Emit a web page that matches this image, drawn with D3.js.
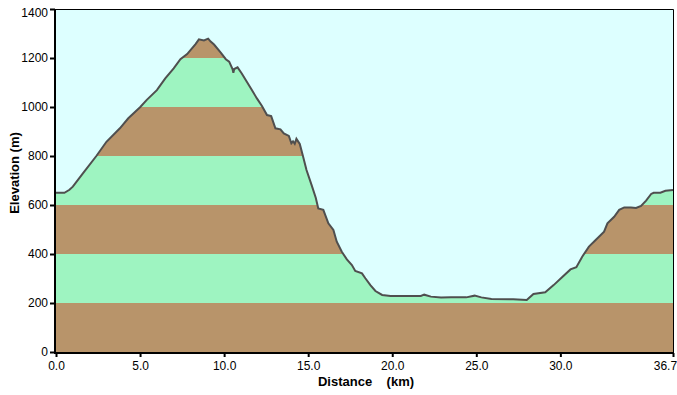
<!DOCTYPE html>
<html>
<head>
<meta charset="utf-8">
<script src="https://cdn.jsdelivr.net/npm/d3@7"></script>
<style>
  body { margin: 0; background: #fff; }
  text { font-family: "Liberation Sans", Arial, sans-serif; }
</style>
</head>
<body>
<script>
// profile (km, m)
const distances = [0, 0.5, 0.8, 1.0, 1.6, 2.4, 3.0, 3.8, 4.3, 5.0, 5.4, 6.0, 6.5, 7.0, 7.4, 7.8, 8.3, 8.5, 8.8, 9.05,
  9.2, 9.4, 9.8, 10.1, 10.3, 10.5, 10.55, 10.6, 10.8, 11.05, 11.35, 11.65, 11.95, 12.25, 12.55, 12.8, 13.05, 13.35,
  13.55, 13.85, 14.0, 14.1, 14.2, 14.3, 14.5, 14.7, 14.9, 15.2, 15.45, 15.6, 15.9, 16.2, 16.5, 16.7, 17.0, 17.3, 17.6,
  17.8, 18.2, 18.4, 18.7, 19.0, 19.4, 19.9, 21.7, 21.9, 22.3, 22.9, 23.5, 24.4, 24.9, 25.3, 25.9, 27.2, 28.0, 28.4,
  29.1, 29.6, 30.1, 30.6, 30.95, 31.3, 31.7, 32.1, 32.6, 32.8, 33.2, 33.5, 33.8, 34.2, 34.5, 34.8, 35.1, 35.4, 35.55,
  35.95, 36.25, 36.7]
const elevations = [650, 650, 662, 675, 729, 800, 858, 913, 954, 999, 1029, 1069, 1117, 1158, 1195, 1216, 1257, 1276, 1272, 1279,
  1267, 1255, 1222, 1195, 1185, 1155, 1140, 1155, 1162, 1137, 1103, 1069, 1035, 1004, 967, 963, 913, 909,
  892, 882, 852, 860, 850, 870, 849, 797, 743, 682, 630, 586, 580, 525, 498, 450, 409, 378, 355,
  331, 321, 301, 273, 249, 233, 229, 229, 234, 226, 222, 223, 223, 230, 223, 216, 215, 212, 237,
  244, 273, 305, 337, 346, 389, 430, 457, 491, 525, 552, 580, 590, 590, 588, 596, 618, 645, 650,
  650, 658, 661]

const xTicks = [0, 5, 10, 15, 20, 25, 30, 36.7]
const yTicks = [0, 200, 400, 600, 800, 1000, 1200, 1400]
const bandEdges = [0, 200, 400, 600, 800, 1000, 1200, 1400]

const W = 677
const H = 395
const margin = { left: 56, right: 4, top: 9, bottom: 43 }

const brown = '#b8946a'
const green = '#9ef4c1'
const sky = '#ddffff'

const data = distances.map((d, i) => ({ d: d, e: elevations[i] }))

const x = d3.scaleLinear().domain([0, 36.7]).range([margin.left, W - margin.right])
const y = d3.scaleLinear().domain([0, 1400]).range([H - margin.bottom, margin.top])

const svg = d3.select('body').append('svg')
  .attr('width', W)
  .attr('height', H)

svg.append('rect')
  .attr('x', x(0))
  .attr('y', y(1400))
  .attr('width', x(36.7) - x(0))
  .attr('height', y(0) - y(1400))
  .attr('fill', sky)

const area = d3.area()
  .x(d => x(d.d))
  .y0(y(0))
  .y1(d => y(d.e))

svg.append('clipPath').attr('id', 'ground')
  .append('path')
  .attr('d', area(data))

// elevation bands, 200 m each
svg.append('g')
  .attr('clip-path', 'url(#ground)')
  .selectAll('rect')
  .data(bandEdges.slice(0, -1))
  .enter()
  .append('rect')
  .attr('x', x(0))
  .attr('width', x(36.7) - x(0))
  .attr('y', (d, i) => y(bandEdges[i + 1]))
  .attr('height', (d, i) => y(d) - y(bandEdges[i + 1]))
  .attr('fill', (d, i) => i % 2 === 0 ? brown : green)

const line = d3.line()
  .x(d => x(d.d))
  .y(d => y(d.e))

svg.append('path')
  .datum(data)
  .attr('d', line)
  .attr('fill', 'none')
  .attr('stroke', '#4f4f4f')
  .attr('stroke-width', 2)
  .attr('stroke-linejoin', 'miter')

// thin frame top + right
svg.append('path')
  .attr('d', `M${x(0)},${y(1400) + 0.5}H${x(36.7) + 0.5}V${y(0)}`)
  .attr('fill', 'none')
  .attr('stroke', '#000')
  .attr('stroke-width', 1)

const xAxis = svg.append('g')
  .attr('transform', `translate(0,${y(0) + 1})`)
  .call(d3.axisBottom(x).tickValues(xTicks).tickFormat(d3.format('.1f')).tickSize(4).tickPadding(4))

const yAxis = svg.append('g')
  .attr('transform', `translate(${x(0) - 1},0)`)
  .call(d3.axisLeft(y).tickValues(yTicks).tickFormat(d3.format('d')).tickSize(5).tickPadding(2))

for (const g of [xAxis, yAxis]) {
  g.select('.domain').attr('stroke', '#000').attr('stroke-width', 2)
  g.selectAll('.tick line').attr('stroke', '#000').attr('stroke-width', 2)
  g.selectAll('.tick text')
    .attr('fill', '#000')
    .style('font-size', '12px')
}

xAxis.select('.domain').attr('d', `M${x(0) - 2},0H${x(36.7) + 1}`)
yAxis.select('.domain').attr('d', `M0,${y(1400)}V${y(0) + 2}`)

// last distance label is pulled inside the right edge
xAxis.selectAll('.tick text').filter(d => d === 36.7).attr('text-anchor', 'end').attr('dx', '0.3em')
// top label sits a bit lower so it stays inside
yAxis.selectAll('.tick text').filter(d => d === 1400).attr('dy', '0.6em')

svg.append('text')
  .attr('x', 366)
  .attr('y', 386)
  .attr('text-anchor', 'middle')
  .style('font-size', '13px')
  .style('font-weight', 'bold')
  .style('white-space', 'pre')
  .text('Distance    (km)')

svg.append('text')
  .attr('transform', `translate(19,173) rotate(-90)`)
  .attr('text-anchor', 'middle')
  .style('font-size', '13px')
  .style('font-weight', 'bold')
  .text('Elevation (m)')
</script>
</body>
</html>
